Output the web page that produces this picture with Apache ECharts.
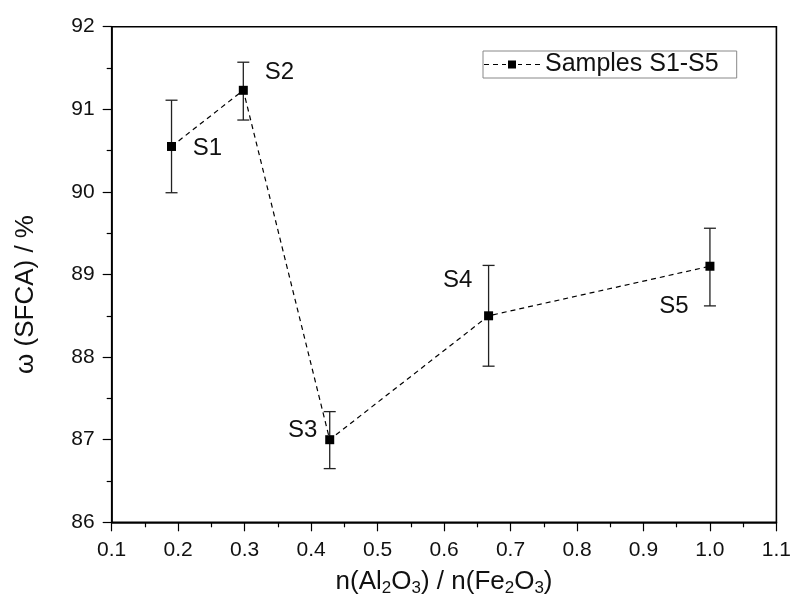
<!DOCTYPE html>
<html>
<head>
<meta charset="utf-8">
<script src="https://cdn.jsdelivr.net/npm/echarts@6/dist/echarts.min.js"></script>
<style>html,body{margin:0;padding:0;background:#fff;}#c{width:794px;height:605px;}</style>
</head>
<body>
<div id="c"></div>
<script>
const sampleNames = ['S1', 'S2', 'S3', 'S4', 'S5'];
const ratioValues = [0.19, 0.298, 0.428, 0.667, 1.0];
const sfcaValues = [90.55, 91.23, 87.0, 88.5, 89.1];
const errLow = [89.99, 90.87, 86.65, 87.89, 88.62];
const errHigh = [91.11, 91.57, 87.34, 89.11, 89.56];
const xTicks = [0.1, 0.2, 0.3, 0.4, 0.5, 0.6, 0.7, 0.8, 0.9, 1.0, 1.1];
const yTicks = [86, 87, 88, 89, 90, 91, 92];

const FONT = 'Liberation Sans, Arial, sans-serif';
const labelOffsets = [[36, 2], [36, -18], [-27, -9], [-31, -35], [-36, 40]];

const chart = echarts.init(document.getElementById('c'), null, {renderer: 'canvas'});

const lineData = ratioValues.map((x, i) => ({
  value: [x, sfcaValues[i]],
  name: sampleNames[i],
  label: {show: true, offset: labelOffsets[i]}
}));
const errData = ratioValues.map((x, i) => [x, errLow[i], errHigh[i]]);

const axisCommon = {
  axisLine: {show: true, onZero: false, lineStyle: {color: '#000', width: 1.6}},
  axisTick: {show: true, inside: false, length: 9, lineStyle: {color: '#000', width: 1.2}},
  minorTick: {show: true, splitNumber: 2, length: 5, lineStyle: {color: '#000', width: 1.2}},
  splitLine: {show: false},
  axisLabel: {color: '#111', fontSize: 21, fontFamily: FONT, margin: 17}
};

const option = {
  backgroundColor: '#fff',
  animation: false,
  grid: {left: 111.7, right: 15.7, top: 26.7, bottom: 82.7, show: true, borderColor: '#000', borderWidth: 1.6, backgroundColor: 'transparent'},
  legend: {
    show: true,
    left: 483, top: 51,
    orient: 'horizontal',
    borderColor: '#888', borderWidth: 1,
    padding: [1, 18, 1, 1],
    itemWidth: 56, itemHeight: 8,
    itemGap: 5,
    textStyle: {fontSize: 25, fontFamily: FONT, color: '#111', lineHeight: 19},
    data: [{
      name: 'Samples S1-S5',
      icon: 'path://M0 3.4h5v1.2h-5z M9 3.4h5v1.2h-5z M18 3.4h4v1.2h-4z M24 0h8v8h-8z M34 3.4h4v1.2h-4z M42 3.4h5v1.2h-5z M51 3.4h5v1.2h-5z',
      itemStyle: {color: '#000'}
    }]
  },
  xAxis: Object.assign({}, axisCommon, {
    type: 'value', min: 0.1, max: 1.1, interval: 0.1,
    axisLabel: Object.assign({}, axisCommon.axisLabel, {
      formatter: v => xTicks.find(t => Math.abs(t - v) < 1e-6).toFixed(1)
    }),
    name: '{m|n(Al}{s|2}{m|O}{s|3}{m|) / n(Fe}{s|2}{m|O}{s|3}{m|)}',
    nameLocation: 'middle', nameGap: 45,
    nameTextStyle: {
      rich: {
        m: {fontSize: 26, fontFamily: FONT, color: '#111', lineHeight: 28, verticalAlign: 'bottom'},
        s: {fontSize: 17, fontFamily: FONT, color: '#111', lineHeight: 28, verticalAlign: 'bottom', padding: [0, 0, -2, 0]}
      }
    }
  }),
  yAxis: Object.assign({}, axisCommon, {
    type: 'value', min: 86, max: 92, interval: 1,
    axisLabel: Object.assign({}, axisCommon.axisLabel, {
      formatter: v => String(yTicks.find(t => Math.abs(t - v) < 1e-6))
    }),
    name: 'ω (SFCA) / %',
    nameLocation: 'middle', nameGap: 73, nameRotate: 90,
    nameTextStyle: {fontSize: 26, fontFamily: FONT, color: '#111', padding: [0, 40, 0, 0]}
  }),
  series: [
    {
      type: 'custom',
      name: 'err',
      data: errData,
      z: 2,
      renderItem: function (params, api) {
        const x = api.value(0);
        const lo = api.coord([x, api.value(1)]);
        const hi = api.coord([x, api.value(2)]);
        const hw = 6;
        const st = {stroke: '#222', lineWidth: 1.3};
        return {
          type: 'group',
          children: [
            {type: 'line', shape: {x1: lo[0], y1: lo[1], x2: hi[0], y2: hi[1]}, style: st},
            {type: 'line', shape: {x1: lo[0] - hw, y1: lo[1], x2: lo[0] + hw, y2: lo[1]}, style: st},
            {type: 'line', shape: {x1: hi[0] - hw, y1: hi[1], x2: hi[0] + hw, y2: hi[1]}, style: st}
          ]
        };
      }
    },
    {
      type: 'line',
      name: 'Samples S1-S5',
      data: lineData,
      z: 3,
      symbol: 'rect',
      symbolSize: 9,
      showAllSymbol: true,
      lineStyle: {color: '#000', width: 1.2, type: [5, 4]},
      itemStyle: {color: '#000'},
      label: {
        show: true, position: 'inside',
        formatter: p => p.name,
        fontSize: 24, fontFamily: FONT, color: '#111'
      }
    }
  ]
};
chart.setOption(option);
</script>
</body>
</html>
